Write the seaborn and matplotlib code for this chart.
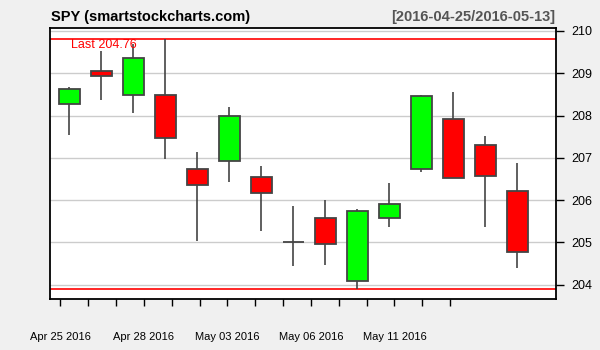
import numpy as np
import pandas as pd
import matplotlib
matplotlib.use("Agg")
import matplotlib.pyplot as plt
import seaborn as sns

# ---- data ----
dates = ["2016-04-25", "2016-04-26", "2016-04-27", "2016-04-28", "2016-04-29",
         "2016-05-02", "2016-05-03", "2016-05-04", "2016-05-05", "2016-05-06",
         "2016-05-09", "2016-05-10", "2016-05-11", "2016-05-12", "2016-05-13"]
opens  = [208.27, 209.06, 208.48, 208.48, 206.73, 206.92, 206.54, 205.02, 205.57, 204.08,
          205.57, 206.73, 207.92, 207.30, 206.21]
highs  = [208.68, 209.53, 209.70, 209.82, 207.14, 208.21, 206.81, 205.86, 206.01, 205.79,
          206.40, 208.48, 208.56, 207.52, 206.88]
lows   = [207.55, 208.36, 208.05, 206.96, 205.04, 206.42, 205.28, 204.43, 204.47, 203.89,
          205.37, 206.66, 206.52, 205.37, 204.39]
closes = [208.63, 208.93, 209.36, 207.47, 206.35, 207.99, 206.16, 205.02, 204.97, 205.74,
          205.90, 208.46, 206.52, 206.57, 204.76]
yticks = [204, 205, 206, 207, 208, 209, 210]
xlabels = ["Apr 25 2016", "", "", "Apr 28 2016", "", "", "May 03 2016", "", "",
           "May 06 2016", "", "", "May 11 2016", "", ""]
title_left = "SPY (smartstockcharts.com)"
title_right = "[2016-04-25/2016-05-13]"

df = pd.DataFrame({"date": dates, "open": opens, "high": highs,
                   "low": lows, "close": closes})
df["i"] = np.arange(len(df))
df["up"] = df["close"] >= df["open"]

sns.set_theme(style="white")
plt.rcParams["font.family"] = ["Liberation Sans", "DejaVu Sans"]

fig = plt.figure(figsize=(6, 3.5), dpi=100, facecolor="#F0F0F0")
ax = fig.add_axes([50 / 600, 51 / 350, 506 / 600, 271 / 350])
ax.set_facecolor("white")

xmin, xmax = -0.603, 15.21
ax.set_xlim(xmin, xmax)
ax.set_ylim(203.66, 210.07)

# grid
for y in yticks:
    ax.axhline(y, color="#CCCCCC", lw=1.0, zorder=1)

# high / low range lines
ax.axhline(df["high"].max(), color="#FF0000", lw=1.2, zorder=2)
ax.axhline(df["low"].min(), color="#FF0000", lw=1.2, zorder=2)

# wicks
ax.vlines(df["i"], df["low"], df["high"], color="#444444", lw=1.2, zorder=3)

# bodies
colors = np.where(df["up"], "#00FF00", "#FF0000")
bottoms = np.minimum(df["open"], df["close"])
heights = np.abs(df["close"] - df["open"])
ax.bar(df["i"], heights, bottom=bottoms, width=0.667, color=colors,
       edgecolor="#444444", linewidth=1.3, zorder=4)

# last value label
ax.text(0.0415, 0.928, f"Last {closes[-1]:.2f}", transform=ax.transAxes,
        color="#FF0000", fontsize=9, ha="left", va="baseline", zorder=6)

# y axis on the right
ax.yaxis.tick_right()
ax.set_yticks(yticks)
ax.set_yticklabels([str(v) for v in yticks])
ax.tick_params(axis="y", which="major", direction="out", length=5.8, width=1,
               color="black", pad=5, labelsize=9, labelcolor="black", right=True, left=False)

# x ticks (chart-style spacing)
span = xmax - xmin
tick_pos = [xmin + (10.3 + 27.84 * k) / 506 * span for k in range(len(dates))]
ax.set_xticks(tick_pos)
ax.set_xticklabels(xlabels)
ax.tick_params(axis="x", which="major", direction="out", length=5, width=1,
               color="black", pad=19, labelsize=8, labelcolor="black", bottom=True)

for s in ax.spines.values():
    s.set_visible(True)
    s.set_color("black")
    s.set_linewidth(1.3)

fig.text(51 / 600, (350 - 20.7) / 350, title_left, fontsize=10.5, fontweight="bold",
         ha="left", va="baseline", color="black")
fig.text(555 / 600, (350 - 20.7) / 350, title_right, fontsize=10.5, fontweight="bold",
         ha="right", va="baseline", color="#555555")

fig.savefig("out.png", dpi=100, facecolor=fig.get_facecolor())
